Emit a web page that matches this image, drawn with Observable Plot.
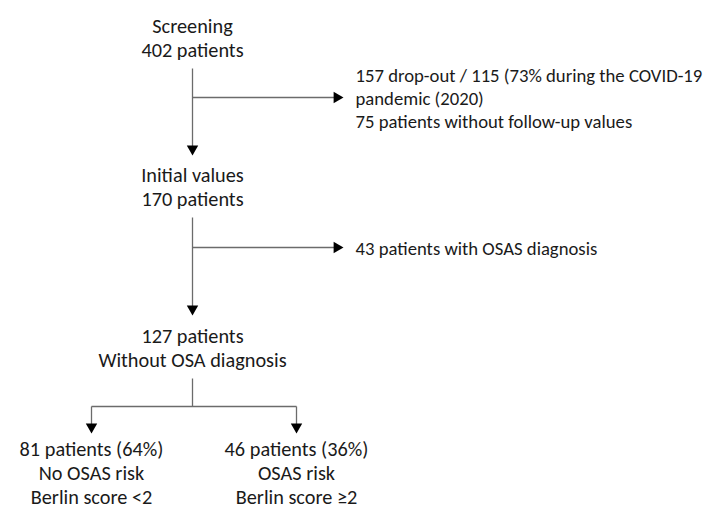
<!DOCTYPE html>
<html>
<head>
<meta charset="utf-8">
<script src="https://cdn.jsdelivr.net/npm/d3@7"></script>
<script src="https://cdn.jsdelivr.net/npm/@observablehq/plot@0.6"></script>
<style>
  html, body { margin: 0; padding: 0; background: #fff; }
  #chart svg { display: block; }
</style>
</head>
<body>
<div id="chart"></div>
<script>
// ---- content (text of the flowchart) ----
const nodeIds = ["screen", "initial", "without", "noRisk", "risk", "dropout", "osas"];
const nodeTexts = [
  "Screening\n402 patients",
  "Initial values\n170 patients",
  "127 patients\nWithout OSA diagnosis",
  "81 patients (64%)\nNo OSAS risk\nBerlin score <2",
  "46 patients (36%)\nOSAS risk\nBerlin score \u22652",
  "157 drop-out / 115 (73% during the COVID-19\npandemic (2020)\n75 patients without follow-up values",
  "43 patients with OSAS diagnosis"
];

// ---- layout (pixel-space scale coordinates) ----
const nodeX = [192, 192, 192, 91, 296, 355, 355];
const nodeY = [37, 185.5, 347, 472, 472, 97, 247];
const nodeAnchor = ["middle", "middle", "middle", "middle", "middle", "start", "start"];
const nodeFontSize = [20.3, 20.3, 20.3, 20.3, 20.3, 18.7, 18.7];
const nodeLineHeight = [1.18, 1.18, 1.18, 1.19, 1.19, 1.23, 1.23];

// connectors: [x1, y1, x2, y2, arrow direction at end or null]
const connectors = [
  [192, 68, 192, 155, "down"],
  [192, 97, 343, 97, "right"],
  [192, 217, 192, 315, "down"],
  [192, 247, 343, 247, "right"],
  [192, 378, 192, 406, null],
  [91, 406, 296, 406, null],
  [91, 406, 91, 433, "down"],
  [296, 406, 296, 433, "down"]
];

const nodes = nodeIds.map((id, i) => ({
  id, text: nodeTexts[i], x: nodeX[i], y: nodeY[i],
  anchor: nodeAnchor[i], lh: nodeLineHeight[i], fs: nodeFontSize[i]
}));

const headHalf = 3.3;             // d3 triangle |y| parameter
const headSize = headHalf * headHalf * 3 * Math.sqrt(3);
const headR = Math.sqrt(headSize / Math.PI);
const tipOffset = 2 * headHalf;    // centroid-to-tip distance
const headLen = 3 * headHalf;

const links = connectors.map(([x1, y1, x2, y2, dir]) => {
  let ex = x2, ey = y2;
  if (dir === "down") ey = y2 - headLen + 0.5;
  if (dir === "right") ex = x2 - headLen + 0.5;
  return {x1, y1, x2: ex, y2: ey};
});
const heads = connectors.filter(c => c[4]).map(([x1, y1, x2, y2, dir]) => ({
  x: dir === "right" ? x2 - tipOffset : x2,
  y: dir === "down" ? y2 - tipOffset : y2,
  rotate: dir === "down" ? 180 : 90
}));

const W = 707, H = 509;
const groups = d3.groups(nodes, d => `${d.lh}|${d.anchor}|${d.fs}`);
const textMarks = groups.map(([key, data]) => Plot.text(data, {
  x: "x", y: "y", text: "text",
  textAnchor: data[0].anchor, lineAnchor: "middle", lineHeight: data[0].lh,
  fill: "#1a1a1a", fontSize: data[0].fs
}));

const chart = Plot.plot({
  width: W, height: H,
  margin: 0,
  style: {fontFamily: "Carlito, Calibri, Lato, sans-serif", background: "#fff", overflow: "visible"},
  x: {domain: [0, W], range: [0, W], axis: null},
  y: {domain: [0, H], range: [0, H], axis: null},
  marks: [
    Plot.link(links, {x1: "x1", y1: "y1", x2: "x2", y2: "y2", stroke: "#6b6b6b", strokeWidth: 1.3}),
    Plot.dot(heads, {x: "x", y: "y", rotate: "rotate", symbol: "triangle", r: headR, fill: "#000", stroke: "none"}),
    ...textMarks
  ]
});
document.getElementById("chart").appendChild(chart);
</script>
</body>
</html>
